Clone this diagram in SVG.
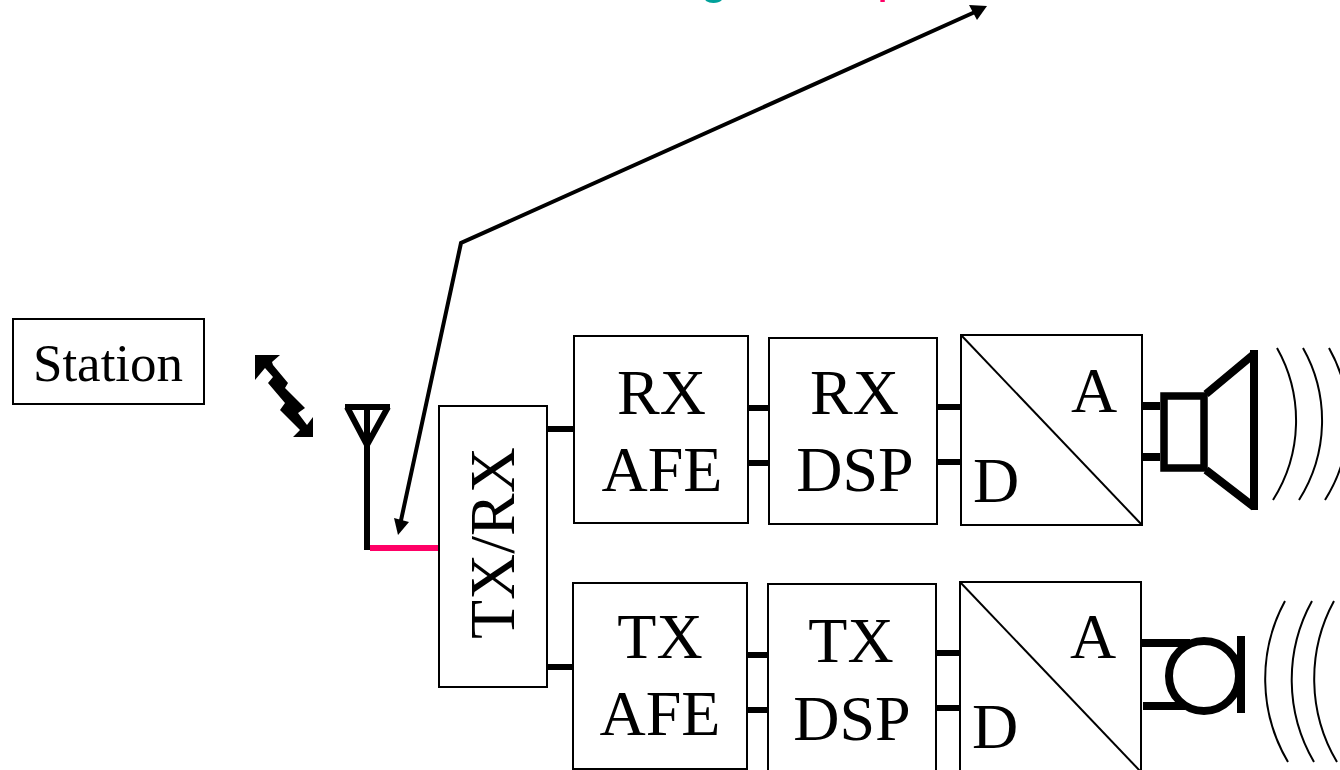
<svg xmlns="http://www.w3.org/2000/svg" width="1340" height="770" viewBox="0 0 1340 770">
<style>
.b{fill:#fff;stroke:#000;stroke-width:2}
.t{font-family:"Liberation Serif","Times New Roman",serif;font-size:64px;fill:#000;text-anchor:middle}
.w{fill:none;stroke:#000;stroke-width:6}
.s{fill:none;stroke:#000;stroke-width:8}
.a{fill:none;stroke:#000;stroke-width:2}
.l{fill:none;stroke:#000;stroke-width:2}
.h{font-family:"Liberation Sans",Arial,sans-serif;font-size:50px}
</style>
<g id="clipped-title">
<text class="h" x="714" y="-7" text-anchor="middle" fill="#00a19a">g</text>
<text class="h" x="877" y="-8" fill="#ff0066">p</text>
</g>
<g id="connectors">
<path d="M548 429H574M748 408H769M748 463H769M937 407H961M937 462H961" class="w"/>
<path d="M548 667H574M747 655H768M747 710H768M936 653H960M936 708H960" class="w"/>
<path d="M1142 406H1160M1142 457H1160" class="s"/>
<path d="M370 548H438" fill="none" stroke="#ff0066" stroke-width="6"/>
<path d="M975 12L461 243L400 525" fill="none" stroke="#000" stroke-width="4"/>
<path d="M987 6L969 5L977 20Z" fill="#000"/>
<path d="M398 535L394 518L409 522Z" fill="#000"/>
</g>
<g id="station"><rect class="b" x="13" y="319" width="191" height="85"/><text class="t" x="108" y="381" style="font-size:53px">Station</text></g>
<g id="radio-link"><path d="M255 355H280L272 362L273 365L288 383L285 388L305 408L298 413L307 425L313 417V437H293L300 430L280 410L285 403L268 383L273 377L265 368L255 380Z" fill="#000"/></g>
<g id="antenna"><path d="M367 550V447M345 407H390M347 407L367 445L388 407M367 407V447" fill="none" stroke="#000" stroke-width="6"/></g>
<g id="txrx"><rect class="b" x="439" y="406" width="108" height="281"/><text class="t" transform="translate(514,543) rotate(-90)">TX/RX</text></g>
<g id="rx-afe"><rect class="b" x="574" y="336" width="174" height="187"/><text class="t" x="661.5" y="413.5">RX</text><text class="t" x="662" y="491">AFE</text></g>
<g id="rx-dsp"><rect class="b" x="769" y="338" width="168" height="186"/><text class="t" x="854.5" y="413.5">RX</text><text class="t" x="855" y="491">DSP</text></g>
<g id="rx-dac"><rect class="b" x="961" y="335" width="181" height="190"/><path d="M961 335L1142 525" class="a"/><text class="t" x="1094" y="412">A</text><text class="t" x="996" y="502">D</text></g>
<g id="tx-afe"><rect class="b" x="573" y="583" width="174" height="186"/><text class="t" x="660" y="658">TX</text><text class="t" x="660" y="735">AFE</text></g>
<g id="tx-dsp"><rect class="b" x="768" y="584" width="168" height="187"/><text class="t" x="851" y="662">TX</text><text class="t" x="852" y="740">DSP</text></g>
<g id="tx-dac"><rect class="b" x="960" y="582" width="181" height="190"/><path d="M960 582L1141 772" class="a"/><text class="t" x="1093" y="658">A</text><text class="t" x="995" y="748">D</text></g>
<g id="speaker"><rect x="1164" y="396" width="40" height="72" fill="none" stroke="#000" stroke-width="7.5"/><path d="M1206 394L1254 354M1206 470L1254 507M1254 350V510" class="s"/>
<path class="l" d="M1277 348A148 148 0 0 1 1273 500M1303 348A148 148 0 0 1 1299 500M1329 348A148 148 0 0 1 1325 500"/></g>
<g id="microphone"><path d="M1141 643H1190M1143 706H1185" class="s"/><circle cx="1204" cy="676" r="35" fill="none" stroke="#000" stroke-width="8"/><path d="M1241 636V713" class="s"/>
<path class="l" d="M1285 601A163 163 0 0 0 1288 762M1312 601A163 163 0 0 0 1314 762M1334 601A163 163 0 0 0 1337 762"/></g>
</svg>
